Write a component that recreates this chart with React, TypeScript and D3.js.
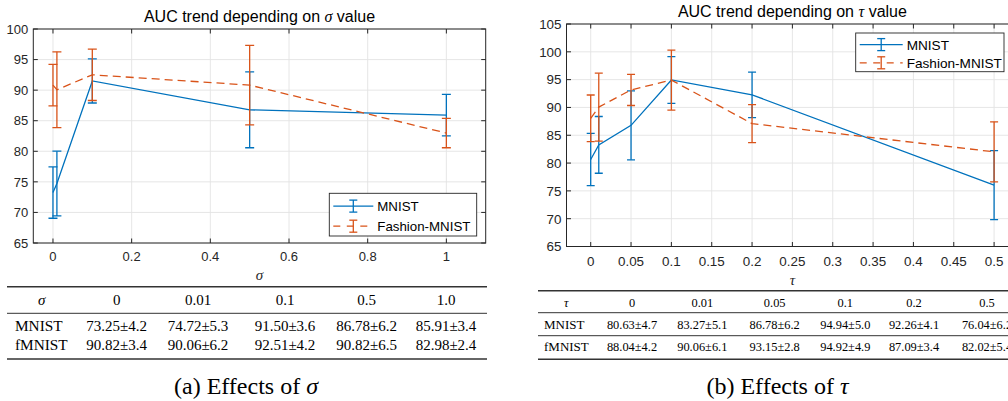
import React from 'react';
import * as d3 from 'd3';

// ---------- data ----------
const sigmaValues = [0, 0.01, 0.1, 0.5, 1.0];
const sigmaHeader = ['0', '0.01', '0.1', '0.5', '1.0'];
const sigmaMnistMean = [73.25, 74.72, 91.5, 86.78, 85.91];
const sigmaMnistStd = [4.2, 5.3, 3.6, 6.2, 3.4];
const sigmaFmnistMean = [90.82, 90.06, 92.51, 90.82, 82.98];
const sigmaFmnistStd = [3.4, 6.2, 4.2, 6.5, 2.4];
const sigmaXTicks = [0, 0.2, 0.4, 0.6, 0.8, 1];
const sigmaXTickLabels = ['0', '0.2', '0.4', '0.6', '0.8', '1'];
const sigmaYTicks = [65, 70, 75, 80, 85, 90, 95, 100];

const tauValues = [0, 0.01, 0.05, 0.1, 0.2, 0.5];
const tauHeader = ['0', '0.01', '0.05', '0.1', '0.2', '0.5'];
const tauMnistMean = [80.63, 83.27, 86.78, 94.94, 92.26, 76.04];
const tauMnistStd = [4.7, 5.1, 6.2, 5.0, 4.1, 6.2];
const tauMnistBar = [4.7, 5.1, 6.2, 4.2, 4.1, 6.2];
const tauFmnistMean = [88.04, 90.06, 93.15, 94.92, 87.09, 82.02];
const tauFmnistStd = [4.2, 6.1, 2.8, 4.9, 3.4, 5.4];
const tauFmnistBar = [4.2, 6.1, 2.8, 5.4, 3.4, 5.4];
const tauXTicks = [0, 0.05, 0.1, 0.15, 0.2, 0.25, 0.3, 0.35, 0.4, 0.45, 0.5];
const tauXTickLabels = ['0', '0.05', '0.1', '0.15', '0.2', '0.25', '0.3', '0.35', '0.4', '0.45', '0.5'];
const tauYTicks = [65, 70, 75, 80, 85, 90, 95, 100, 105];

const seriesNames = ['MNIST', 'Fashion-MNIST'];
const rowNames = ['MNIST', 'fMNIST'];

// ---------- style ----------
const BLUE = '#0072BD';
const ORANGE = '#D95319';
const AX = '#262626';
const GRID = '#e3e3e3';
const SANS = '"Liberation Sans", Arial, Helvetica, sans-serif';
const SERIF = '"Liberation Serif", "Times New Roman", serif';

type PanelCfg = {
  x0: number; x1: number; y0: number; y1: number;
  xDomain: [number, number]; yDomain: [number, number];
  xTicks: number[]; xTickLabels: string[]; yTicks: number[];
  xs: number[];
  m1: number[]; e1: number[]; m2: number[]; e2: number[];
  title: string; sym: string; titleY: number; xTickY: number; xLabelY: number;
  legend: { x: number; y: number; w: number; h: number; lineW: number; fs: number };
  cap: number; fs: number; titleFs: number;
};

function Panel({ c }: { c: PanelCfg }) {
  const x = d3.scaleLinear().domain(c.xDomain).range([c.x0, c.x1]);
  const y = d3.scaleLinear().domain(c.yDomain).range([c.y1, c.y0]);
  const line = d3.line<number>().x((_, i) => x(c.xs[i])).y((d) => y(d));
  const tl = 4.5;
  const cx = (c.x0 + c.x1) / 2;
  const bars = (m: number[], e: number[], col: string) =>
    m.map((v, i) => {
      const px = x(c.xs[i]);
      const top = y(v + e[i]);
      const bot = y(v - e[i]);
      return (
        <g key={i} stroke={col} strokeWidth={1.3} fill="none">
          <line x1={px} x2={px} y1={top} y2={bot} />
          <line x1={px - c.cap / 2} x2={px + c.cap / 2} y1={top} y2={top} />
          <line x1={px - c.cap / 2} x2={px + c.cap / 2} y1={bot} y2={bot} />
        </g>
      );
    });
  const L = c.legend;
  const r1 = L.y + L.h * 0.3;
  const r2 = L.y + L.h * 0.77;
  const lx0 = L.x + 4;
  const lx1 = lx0 + L.lineW;
  const lm = (lx0 + lx1) / 2;
  return (
    <g>
      <defs>
        <clipPath id={'clip' + c.x0}>
          <rect x={c.x0} y={c.y0} width={c.x1 - c.x0} height={c.y1 - c.y0} />
        </clipPath>
      </defs>
      {/* grid */}
      <g stroke={GRID} strokeWidth={0.9}>
        {c.xTicks.map((t, i) => (
          <line key={'gx' + i} x1={x(t)} x2={x(t)} y1={c.y0} y2={c.y1} />
        ))}
        {c.yTicks.map((t, i) => (
          <line key={'gy' + i} x1={c.x0} x2={c.x1} y1={y(t)} y2={y(t)} />
        ))}
      </g>
      {/* data */}
      <g clipPath={`url(#clip${c.x0})`}>
        <path d={line(c.m1) || ''} fill="none" stroke={BLUE} strokeWidth={1.3} />
        {bars(c.m1, c.e1, BLUE)}
        <path d={line(c.m2) || ''} fill="none" stroke={ORANGE} strokeWidth={1.3} strokeDasharray="8,5" />
        {bars(c.m2, c.e2, ORANGE)}
      </g>
      {/* box & ticks */}
      <rect x={c.x0} y={c.y0} width={c.x1 - c.x0} height={c.y1 - c.y0} fill="none" stroke={AX} strokeWidth={1} />
      <g stroke={AX} strokeWidth={1}>
        {c.xTicks.map((t, i) => (
          <g key={'tx' + i}>
            <line x1={x(t)} x2={x(t)} y1={c.y1} y2={c.y1 - tl} />
            <line x1={x(t)} x2={x(t)} y1={c.y0} y2={c.y0 + tl} />
          </g>
        ))}
        {c.yTicks.map((t, i) => (
          <g key={'ty' + i}>
            <line x1={c.x0} x2={c.x0 + tl} y1={y(t)} y2={y(t)} />
            <line x1={c.x1} x2={c.x1 - tl} y1={y(t)} y2={y(t)} />
          </g>
        ))}
      </g>
      <g fontFamily={SANS} fontSize={c.fs} fill={AX}>
        {c.xTicks.map((t, i) => (
          <text key={'lx' + i} x={x(t)} y={c.xTickY} textAnchor="middle">{c.xTickLabels[i]}</text>
        ))}
        {c.yTicks.map((t, i) => (
          <text key={'ly' + i} x={c.x0 - 5} y={y(t) + c.fs * 0.36} textAnchor="end">{t}</text>
        ))}
      </g>
      <text x={cx} y={c.xLabelY} textAnchor="middle" fontFamily={SERIF} fontStyle="italic" fontSize={15} fill={AX}>{c.sym}</text>
      <text x={cx} y={c.titleY} textAnchor="middle" fontFamily={SANS} fontSize={c.titleFs} fill="#000">
        {c.title.split('{s}')[0]}
        <tspan fontFamily={SERIF} fontStyle="italic">{c.sym}</tspan>
        {c.title.split('{s}')[1]}
      </text>
      {/* legend */}
      <rect x={L.x} y={L.y} width={L.w} height={L.h} fill="#fff" stroke={AX} strokeWidth={0.9} />
      <g strokeWidth={1.3} fill="none">
        <line x1={lx0} x2={lx1} y1={r1} y2={r1} stroke={BLUE} />
        <line x1={lm} x2={lm} y1={r1 - 6} y2={r1 + 6} stroke={BLUE} />
        <line x1={lm - 4} x2={lm + 4} y1={r1 - 6} y2={r1 - 6} stroke={BLUE} />
        <line x1={lm - 4} x2={lm + 4} y1={r1 + 6} y2={r1 + 6} stroke={BLUE} />
        <line x1={lx0} x2={lx1} y1={r2} y2={r2} stroke={ORANGE} strokeDasharray="7,6.5" />
        <line x1={lm} x2={lm} y1={r2 - 6} y2={r2 + 6} stroke={ORANGE} />
        <line x1={lm - 4} x2={lm + 4} y1={r2 - 6} y2={r2 - 6} stroke={ORANGE} />
        <line x1={lm - 4} x2={lm + 4} y1={r2 + 6} y2={r2 + 6} stroke={ORANGE} />
      </g>
      <g fontFamily={SANS} fontSize={L.fs} fill="#000">
        <text x={lx1 + 4} y={r1 + L.fs * 0.36}>{seriesNames[0]}</text>
        <text x={lx1 + 4} y={r2 + L.fs * 0.36}>{seriesNames[1]}</text>
      </g>
    </g>
  );
}

type TableCfg = {
  x0: number; x1: number; cols: number[]; labelX: number; sym: string;
  header: string[]; m1: number[]; s1: number[]; m2: number[]; s2: number[];
  topY: number; headY: number; midY: number; r1Y: number; r2Y: number; sepY: number | null; botY: number;
  fs: number; labelFs: number;
};

function Table({ t }: { t: TableCfg }) {
  const fmt = (m: number, s: number) => `${m.toFixed(2)}±${s.toFixed(1)}`;
  return (
    <g fontFamily={SERIF} fill="#000">
      <line x1={t.x0} x2={t.x1} y1={t.topY} y2={t.topY} stroke="#333" strokeWidth={1.6} />
      <line x1={t.x0} x2={t.x1} y1={t.midY} y2={t.midY} stroke="#333" strokeWidth={1} />
      {t.sepY !== null && <line x1={t.x0} x2={t.x1} y1={t.sepY} y2={t.sepY} stroke="#333" strokeWidth={1} />}
      <line x1={t.x0} x2={t.x1} y1={t.botY} y2={t.botY} stroke="#333" strokeWidth={1.6} />
      <text x={t.cols[0]} y={t.headY} textAnchor="middle" fontStyle="italic" fontSize={t.fs}>{t.sym}</text>
      {t.header.map((h, i) => (
        <text key={'h' + i} x={t.cols[i + 1]} y={t.headY} textAnchor="middle" fontSize={t.fs}>{h}</text>
      ))}
      <text x={t.labelX} y={t.r1Y} fontSize={t.labelFs}>{rowNames[0]}</text>
      <text x={t.labelX} y={t.r2Y} fontSize={t.labelFs}>{rowNames[1]}</text>
      {t.m1.map((m, i) => (
        <text key={'a' + i} x={t.cols[i + 1]} y={t.r1Y} textAnchor="middle" fontSize={t.fs}>{fmt(m, t.s1[i])}</text>
      ))}
      {t.m2.map((m, i) => (
        <text key={'b' + i} x={t.cols[i + 1]} y={t.r2Y} textAnchor="middle" fontSize={t.fs}>{fmt(m, t.s2[i])}</text>
      ))}
    </g>
  );
}

export default function App() {
  const left: PanelCfg = {
    x0: 33.3, x1: 485.7, y0: 29, y1: 243,
    xDomain: [-0.05, 1.1], yDomain: [65, 100],
    xTicks: sigmaXTicks, xTickLabels: sigmaXTickLabels, yTicks: sigmaYTicks,
    xs: sigmaValues, m1: sigmaMnistMean, e1: sigmaMnistStd, m2: sigmaFmnistMean, e2: sigmaFmnistStd,
    title: 'AUC trend depending on {s} value', sym: 'σ', titleY: 21.5, xTickY: 261, xLabelY: 279.5,
    legend: { x: 329.3, y: 193.3, w: 147.4, h: 42.7, lineW: 40, fs: 13.3 },
    cap: 9, fs: 13, titleFs: 16,
  };
  const right: PanelCfg = {
    x0: 566.5, x1: 1018.3, y0: 24, y1: 246.5,
    xDomain: [-0.03, 0.53], yDomain: [65, 105],
    xTicks: tauXTicks, xTickLabels: tauXTickLabels, yTicks: tauYTicks,
    xs: tauValues, m1: tauMnistMean, e1: tauMnistBar, m2: tauFmnistMean, e2: tauFmnistBar,
    title: 'AUC trend depending on {s} value', sym: 'τ', titleY: 16.8, xTickY: 266, xLabelY: 284.5,
    legend: { x: 855.7, y: 33, w: 148.3, h: 38.7, lineW: 43, fs: 13.6 },
    cap: 8, fs: 13.4, titleFs: 16,
  };
  const lt: TableCfg = {
    x0: 7, x1: 487, cols: [41.7, 116.7, 198, 285, 366.7, 446], labelX: 15, sym: 'σ',
    header: sigmaHeader, m1: sigmaMnistMean, s1: sigmaMnistStd, m2: sigmaFmnistMean, s2: sigmaFmnistStd,
    topY: 286.7, headY: 305, midY: 313.3, r1Y: 330.5, r2Y: 350, sepY: null, botY: 359,
    fs: 15, labelFs: 15.3,
  };
  const rt: TableCfg = {
    x0: 538, x1: 1060, cols: [566.3, 632, 702.3, 774.7, 845.3, 914, 987], labelX: 544, sym: 'τ',
    header: tauHeader, m1: tauMnistMean, s1: tauMnistStd, m2: tauFmnistMean, s2: tauFmnistStd,
    topY: 290.7, headY: 307, midY: 312.7, r1Y: 329, r2Y: 350.5, sepY: 335.7, botY: 359.3,
    fs: 12.4, labelFs: 13,
  };
  return (
    <svg width={1008} height={401} style={{ position: 'absolute', left: 0, top: 0, background: '#fff' }}>
      <rect width={1008} height={401} fill="#fff" />
      <Panel c={left} />
      <Panel c={right} />
      <Table t={lt} />
      <Table t={rt} />
      <text x={246} y={394} textAnchor="middle" fontFamily={SERIF} fontSize={24} fill="#000">
        (a) Effects of <tspan fontStyle="italic">σ</tspan>
      </text>
      <text x={777.5} y={394} textAnchor="middle" fontFamily={SERIF} fontSize={24} fill="#000">
        (b) Effects of <tspan fontStyle="italic">τ</tspan>
      </text>
    </svg>
  );
}
